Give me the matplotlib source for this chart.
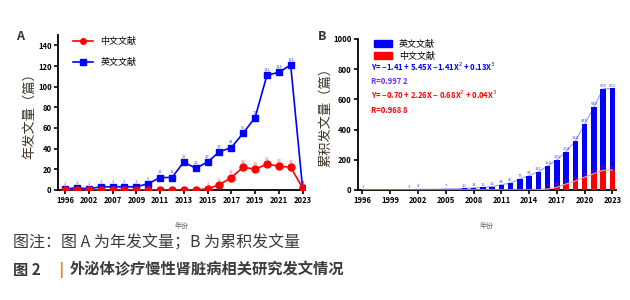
import matplotlib
matplotlib.use('Agg')
import matplotlib.pyplot as plt
from matplotlib.patches import Patch
from matplotlib.lines import Line2D

plt.rcParams['font.family'] = ['Noto Sans CJK SC', 'DejaVu Sans']

# 图 A: 年发文量
years_a = ['1996', '2001', '2002', '2005', '2007', '2008', '2009', '2010', '2011', '2012',
           '2013', '2014', '2015', '2016', '2017', '2018', '2019', '2020', '2021', '2022', '2023']
en_a = [1, 2, 1, 3, 3, 3, 3, 6, 12, 12, 27, 21, 27, 37, 41, 55, 70, 111, 114, 121, 2]
cn_a = [0, 0, 0, 0, 0, 0, 0, 0, 0, 0, 0, 0, 1, 5, 12, 22, 20, 25, 23, 22, 2]

# 图 B: 累积发文量 (1996-2023)
years_b = list(range(1996, 2024))
en_b = [1, 1, 1, 1, 1, 3, 4, 4, 4, 7, 7, 10, 13, 16, 22, 34, 46, 73, 94, 121,
        158, 199, 254, 324, 435, 549, 670, 672]
cn_b = [0, 0, 0, 0, 0, 0, 0, 0, 0, 0, 0, 0, 0, 0, 0, 0, 0, 0, 0, 1,
        6, 18, 40, 60, 85, 108, 130, 132]
label_years_b = [1996, 2001, 2002, 2005, 2007, 2008, 2009, 2010, 2011, 2012, 2013, 2014,
                 2015, 2016, 2017, 2018, 2019, 2020, 2021, 2022, 2023]

BLUE = '#0000ff'
RED = '#ff0000'
LABEL_C = '#3b3326'

fig = plt.figure(figsize=(6.3, 3.0), dpi=100)

# ---------- A ----------
ax1 = fig.add_axes([0.092, 0.367, 0.392, 0.516])
x = list(range(len(years_a)))
ax1.plot(x, en_a, color=BLUE, marker='s', markersize=5, lw=1.2, zorder=3)
ax1.plot(x, cn_a, color=RED, marker='o', markersize=5, lw=1.2, zorder=3)
for i in x:
    ax1.text(i, en_a[i] + 4, str(en_a[i]), color=BLUE, fontsize=3, ha='center', alpha=0.7)
    if cn_a[i] > 0:
        ax1.text(i, cn_a[i] + 4, str(cn_a[i]), color=RED, fontsize=3, ha='center', alpha=0.7)
ax1.set_xlim(-0.6, 20.2)
ax1.set_ylim(0, 150)
ax1.set_yticks(range(0, 141, 20))
ax1.set_xticks(x[::2])
ax1.set_xticklabels(years_a[::2])
ax1.set_ylabel('年发文量（篇）', fontsize=9.5, color=LABEL_C, labelpad=1)
ax1.set_xlabel('年份', fontsize=5, color='#666666', labelpad=12)

leg_a = [Line2D([0], [0], color=RED, marker='o', markersize=4, lw=1.2),
         Line2D([0], [0], color=BLUE, marker='s', markersize=4, lw=1.2)]
ax1.legend(leg_a, ['中文文献', '英文文献'], loc='upper left', bbox_to_anchor=(0.03, 1.04),
           frameon=False, fontsize=6.5, handlelength=2.2, labelspacing=1.3)
fig.text(0.025, 0.865, 'A', fontsize=9, fontweight='bold', color='#333333')

# ---------- B ----------
ax2 = fig.add_axes([0.568, 0.367, 0.41, 0.503])
ax2.bar(years_b, en_b, width=0.6, color=BLUE, zorder=2)
ax2.bar(years_b, cn_b, width=0.6, color=RED, zorder=3)
ax2.plot(years_b, en_b, color='#9999ff', lw=0.8, zorder=1)
ax2.plot(years_b, cn_b, color='#ff9999', lw=0.8, zorder=4)
for yr in label_years_b:
    i = years_b.index(yr)
    ax2.text(yr, en_b[i] + 12, str(en_b[i]), color=BLUE, fontsize=3, ha='center', alpha=0.7)
    if cn_b[i] > 0:
        ax2.text(yr, cn_b[i] + 12, str(cn_b[i]), color=RED, fontsize=3, ha='center', alpha=0.7)
ax2.set_xlim(1995.5, 2023.4)
ax2.set_ylim(0, 1000)
ax2.set_yticks(range(0, 1001, 200))
ax2.set_xticks(range(1996, 2024, 3))
ax2.set_ylabel('累积发文量（篇）', fontsize=9.5, color=LABEL_C, labelpad=1)
ax2.set_xlabel('年份', fontsize=5, color='#666666', labelpad=12)

leg_b = [Patch(color=BLUE), Patch(color=RED)]
ax2.legend(leg_b, ['英文文献', '中文文献'], loc='upper left', bbox_to_anchor=(0.03, 1.05),
           frameon=False, fontsize=6.5, handlelength=2.0, handleheight=0.8, labelspacing=0.3)
eq_fs = 5.5
ax2.text(0.05, 0.79, r'Y= −1.41 + 5.45X −1.41X$^2$ + 0.13X$^3$', transform=ax2.transAxes,
         fontsize=eq_fs, color=BLUE, fontweight='bold')
ax2.text(0.05, 0.70, 'R=0.997 2', transform=ax2.transAxes, fontsize=eq_fs, color='#6633ff',
         fontweight='bold')
ax2.text(0.05, 0.60, r'Y= −0.70 + 2.26X − 0.68X$^2$ + 0.04X$^3$', transform=ax2.transAxes,
         fontsize=eq_fs, color=RED, fontweight='bold')
ax2.text(0.05, 0.51, 'R=0.968 8', transform=ax2.transAxes, fontsize=eq_fs, color=RED,
         fontweight='bold')
fig.text(0.505, 0.865, 'B', fontsize=9, fontweight='bold', color='#333333')

for ax in (ax1, ax2):
    ax.spines['top'].set_visible(False)
    ax.spines['right'].set_visible(False)
    ax.spines['left'].set_linewidth(1.3)
    ax.spines['bottom'].set_linewidth(1.3)
    ax.tick_params(length=3, width=1.2, labelsize=5.5, pad=1.5)
    for lb in ax.get_xticklabels() + ax.get_yticklabels():
        lb.set_fontweight('bold')

# 图注
fig.text(0.02, 0.175, '图注：图 A 为年发文量；B 为累积发文量', fontsize=11.5, color='#3a3a3a')
fig.text(0.02, 0.085, '图 2', fontsize=11, color='#3a3a3a', fontweight='bold')
fig.text(0.092, 0.085, '|', fontsize=11, color='#e08a2a', fontweight='bold',
         family='DejaVu Sans')
fig.text(0.11, 0.085, '外泌体诊疗慢性肾脏病相关研究发文情况', fontsize=11, color='#3a3a3a',
         fontweight='bold')

plt.savefig('out.png', dpi=100)
